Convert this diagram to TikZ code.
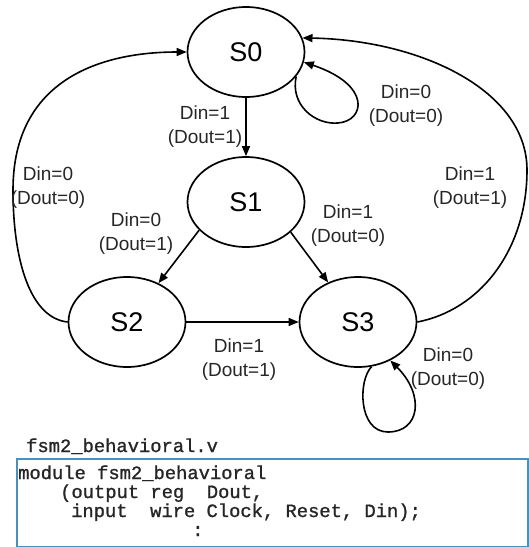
\documentclass[tikz,border=0pt]{standalone}
\usepackage{fontspec}
\setmainfont{Liberation Sans}
\newfontfamily\codefont{Liberation Mono}[FakeBold=1.2]
\newcommand\mycodesetup{\codefont\fontsize{18.8}{19}\selectfont\lineskiplimit=-100pt\relax}
\usetikzlibrary{arrows.meta,shapes.geometric}
\definecolor{boxblue}{RGB}{74,144,186}
\begin{document}
\begin{tikzpicture}[x=1pt,y=-1pt,
 st/.style={draw, line width=1.7pt, ellipse, minimum width=117pt, minimum height=90pt, inner sep=0pt, font=\fontsize{27}{30}\selectfont},
 lbl/.style={align=center, font=\fontsize{19}{24}\selectfont, inner sep=0pt, text=black!85},
 tr/.style={line width=1.6pt, -{Triangle[length=10pt,width=8pt]}},
 codetext/.style={inner sep=0pt, text=black!85, font=\mycodesetup},
]
\useasboundingbox (0,0) rectangle (529,547);

\node[st] (s0) at (246,52) {S0};
\node[st] (s1) at (246,202) {S1};
\node[st] (s2) at (127,322) {S2};
\node[st] (s3) at (358,322) {S3};

% transitions
\draw[tr] (s0) -- (s1);
\draw[tr] (s1.211) -- (s2.51);
\draw[tr] (s1.326) -- (s3.127);
\draw[tr] (s2) -- (s3);
% S0 self loop
\draw[tr] (s0.-26) .. controls (290,105) and (315,125) .. (338,123)
  .. controls (365,121) and (372,85) .. (s0.-10);
% S3 self loop
\draw[tr] (s3.-73) .. controls (358,380) and (358,432) .. (388,432)
  .. controls (420,432) and (425,395) .. (s3.-50);
% S2 -> S0
\draw[tr] (s2.west) .. controls (30,318) and (13,260) .. (13,190)
  .. controls (13,80) and (100,52) .. (s0.west);
% S3 -> S0
\draw[tr] (s3.east) .. controls (480,310) and (527,250) .. (527,170)
  .. controls (527,90) and (420,40) .. (s0.14);

% labels
\node[lbl] (l01) at (205,127) {Din=1\\(Dout=1)};
\node[lbl] (l00) at (406,106) {Din=0\\(Dout=0)};
\node[lbl] (l20) at (48,188) {Din=0\\(Dout=0)};
\node[lbl] (l30) at (470,188) {Din=1\\(Dout=1)};
\node[lbl] (l12) at (136,234) {Din=0\\(Dout=1)};
\node[lbl] (l13) at (348,226) {Din=1\\(Dout=0)};
\node[lbl] (l23) at (239,360) {Din=1\\(Dout=1)};
\node[lbl] (l33) at (448,369) {Din=0\\(Dout=0)};

% code
\node[codetext, anchor=base west] (fname) at (26,452) {fsm2\_behavioral.v};
\node[draw=boxblue, line width=2pt, anchor=north west, minimum width=511pt, minimum height=88pt, inner sep=0pt] (box) at (16,458) {};
\node[codetext, anchor=base west, align=left] (code) at (18,536) {module fsm2\_behavioral\\
\hspace*{42pt}(output reg\ \ Dout,\\
\hspace*{53pt}input\ \ wire Clock, Reset, Din);\\
\hspace*{174pt}:};
\end{tikzpicture}
\end{document}
